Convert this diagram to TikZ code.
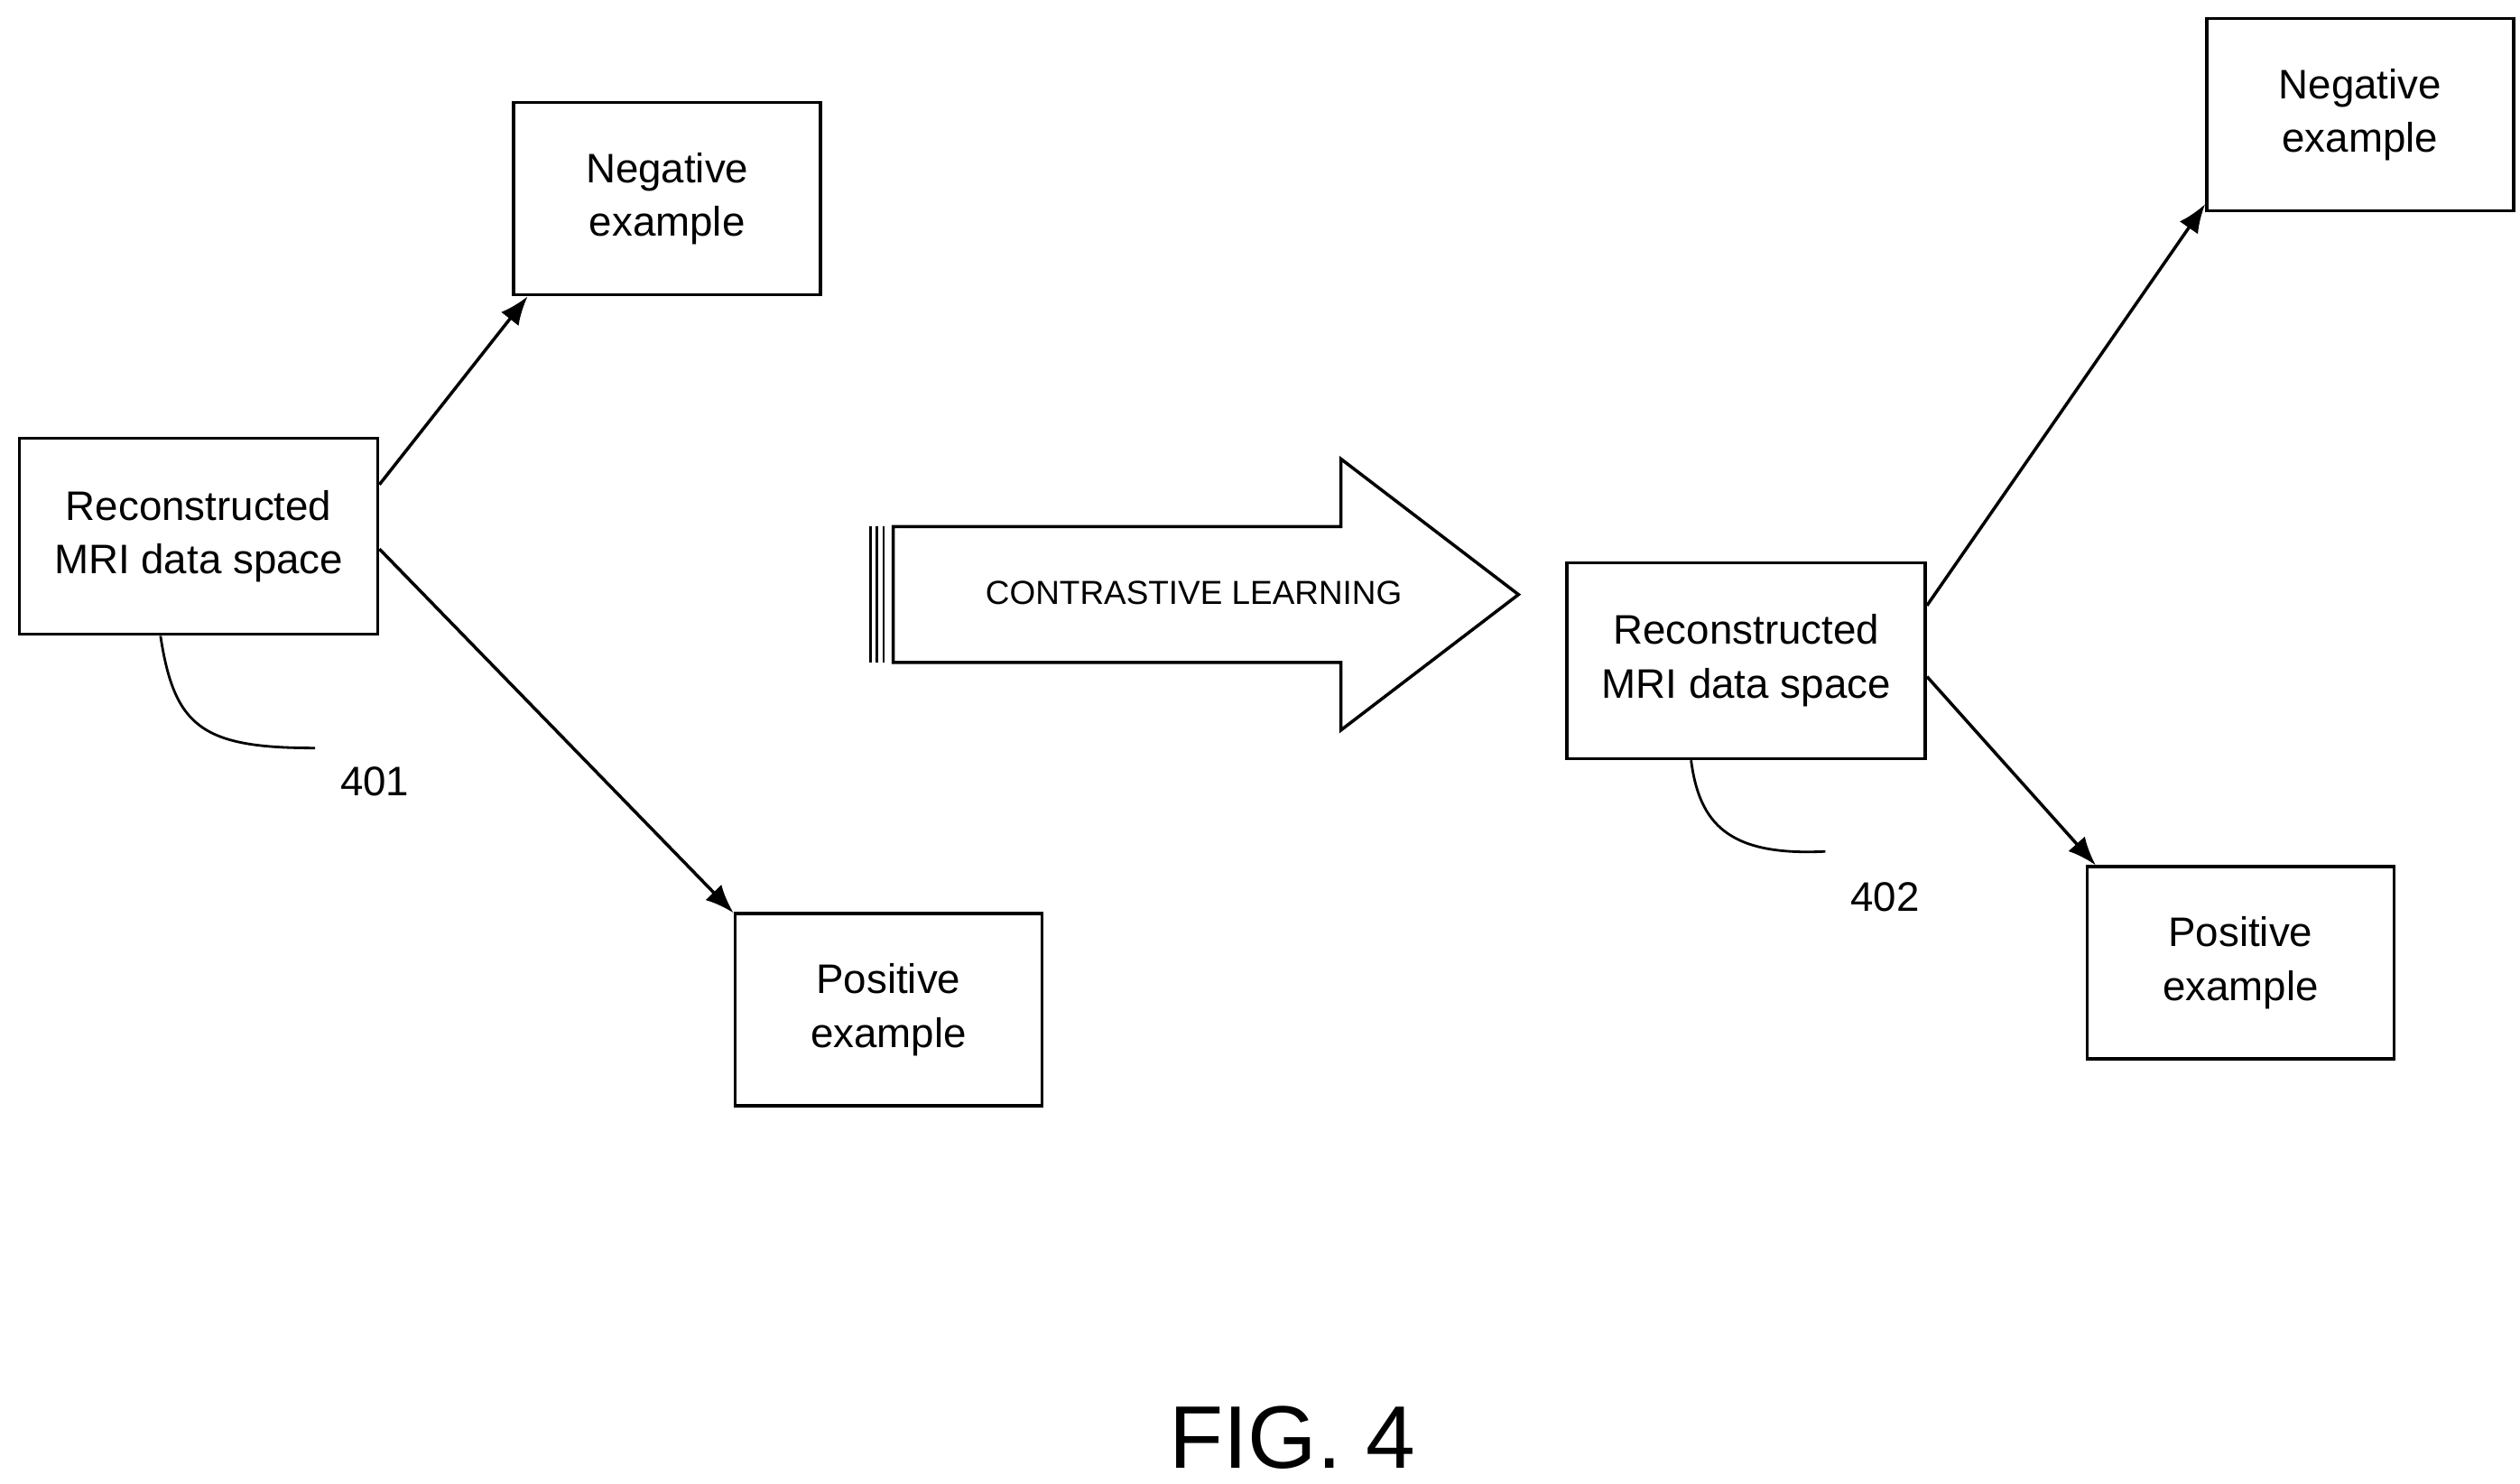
\documentclass[tikz,border=0pt]{standalone}
\usepackage{fontspec}
\setmainfont{Liberation Sans}
\usetikzlibrary{arrows.meta}
\begin{document}
\begin{tikzpicture}[x=0.0179cm,y=-0.0179cm,>={Latex[length=9pt,width=7pt]},line width=1pt,
  box/.style={draw,align=center,font=\fontsize{13}{17}\selectfont},
  rec/.style={box,minimum width=3.97cm,minimum height=2.17cm},
  ex/.style={box,minimum width=3.4cm,minimum height=2.13cm}]
\useasboundingbox (0,0) rectangle (1560,918);
% before learning
\node[rec] (recA) at (123,332) {Reconstructed\\MRI data space};
\node[ex] (negA) at (413,123) {Negative\\example};
\node[ex] (posA) at (550,625) {Positive\\example};
\draw[->] (recA.16)--(negA.215);
\draw[->] (recA.356)--(posA.148);
\coordinate (c401) at (195,463);
\node[font=\fontsize{13}{17}\selectfont] (l401) at (232,484) {401};
\draw[line width=0.8pt] (recA.249) .. controls (108,450) and (125,463) .. (c401);
% contrastive learning arrow
\draw (553,326)--(830,326)--(830,284)--(940,368)--(830,452)--(830,410)--(553,410)--cycle;
\foreach \x in {539,543,547} \draw[line width=0.8pt] (\x,326)--(\x,410);
\node[font=\fontsize{10.5}{12}\selectfont] (cl) at (739,367) {CONTRASTIVE LEARNING};
% after learning
\node[rec] (recB) at (1081,409) {Reconstructed\\MRI data space};
\node[ex] (negB) at (1461,71) {Negative\\example};
\node[ex] (posB) at (1387,596) {Positive\\example};
\draw[->] (recB.17)--(negB.210);
\draw[->] (recB.355)--(posB.146);
\coordinate (c402) at (1130,527);
\node[font=\fontsize{13}{17}\selectfont] (l402) at (1167,555) {402};
\draw[line width=0.8pt] (recB.241) .. controls (1052,510) and (1070,530) .. (c402);
\node[font=\fontsize{28}{32}\selectfont] (fig) at (800,890) {FIG. 4};
\end{tikzpicture}
\end{document}
